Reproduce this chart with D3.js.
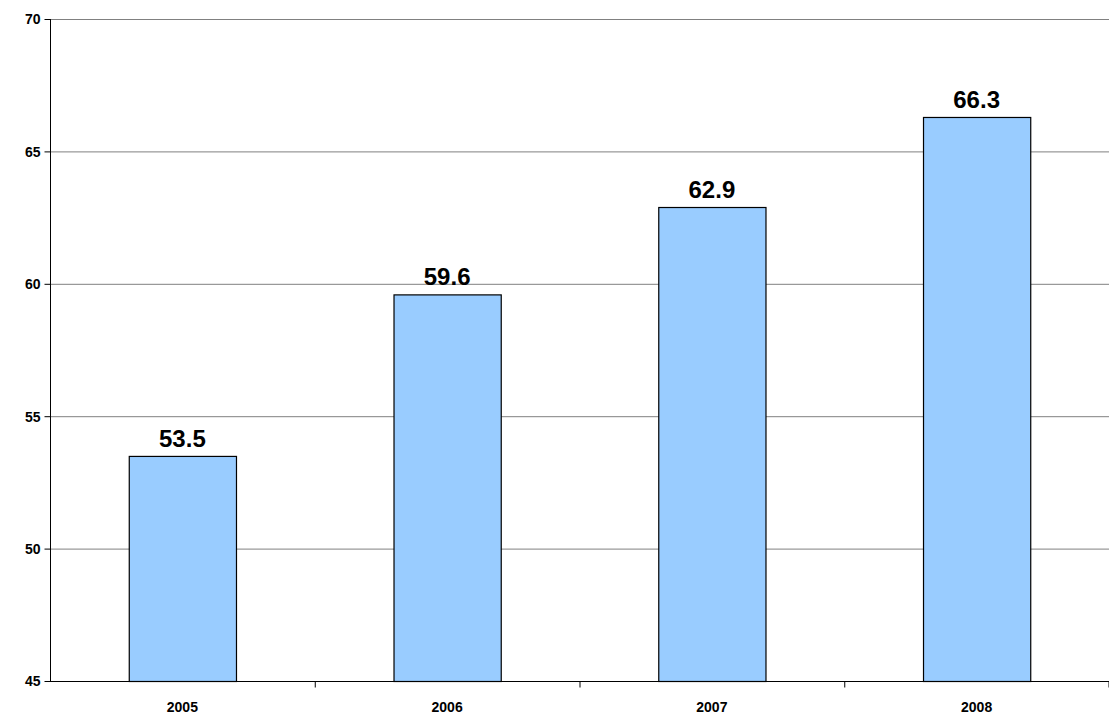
<!DOCTYPE html>
<html><head><meta charset="utf-8">
<script src="https://cdn.jsdelivr.net/npm/d3@7"></script>
<style>body{margin:0;background:#fff}svg{display:block}text{font-family:"Liberation Sans",Arial,sans-serif !important;font-weight:bold}</style>
</head><body>
<svg id="c" width="1109" height="719"></svg>
<script>
const categories = ["2005","2006","2007","2008"];
const values = [53.5, 59.6, 62.9, 66.3];
const yTicks = [45,50,55,60,65,70];

const svg = d3.select("#c");
const L=50, R=1109, T=19, B=681;
const x = d3.scaleBand().domain(categories).range([L,R]).paddingInner(0).paddingOuter(0);
const y = d3.scaleLinear().domain([45,70]).range([B,T]);

svg.append("g").selectAll("line").data(yTicks.slice(1)).join("line")
  .attr("x1",L).attr("x2",R).attr("y1",d=>y(d)+0.5).attr("y2",d=>y(d)+0.5)
  .attr("stroke","#808080").attr("stroke-width",1);

const bw = x.bandwidth()*0.405;
svg.append("g").selectAll("rect").data(values).join("rect")
  .attr("x",(d,i)=>x(categories[i])+x.bandwidth()/2-bw/2+0.5)
  .attr("y",d=>y(d)+0.5).attr("width",bw).attr("height",d=>B-y(d))
  .attr("fill","#99ccff").attr("stroke","#000").attr("stroke-width",1.2);

svg.append("g").selectAll("text").data(values).join("text")
  .attr("x",(d,i)=>x(categories[i])+x.bandwidth()/2).attr("y",d=>y(d)-9)
  .attr("text-anchor","middle").attr("font-size",24).text(d=>d.toFixed(1));

const ya = svg.append("g").attr("transform",`translate(${L+0.5},0)`)
  .call(d3.axisLeft(y).tickValues(yTicks).tickSize(6).tickPadding(4).tickFormat(d3.format("d")));
ya.selectAll("text").attr("font-size",14).attr("fill","#000").attr("dy","0.35em");
ya.selectAll("line,path").attr("stroke","#000");
ya.select("path").attr("d",`M0,${T}V${B}`);

const xa = svg.append("g").attr("transform",`translate(0,${B+0.5})`);
xa.append("line").attr("x1",L).attr("x2",R).attr("stroke","#000");
xa.selectAll(".t").data(categories.slice(1).map(c=>x(c)).concat([R-0.5])).join("line")
  .attr("x1",d=>d+0.5).attr("x2",d=>d+0.5).attr("y1",0).attr("y2",6).attr("stroke","#000");
xa.selectAll("text").data(categories).join("text")
  .attr("x",d=>x(d)+x.bandwidth()/2).attr("y",30).attr("text-anchor","middle")
  .attr("font-size",14).text(d=>d);
</script>
</body></html>
